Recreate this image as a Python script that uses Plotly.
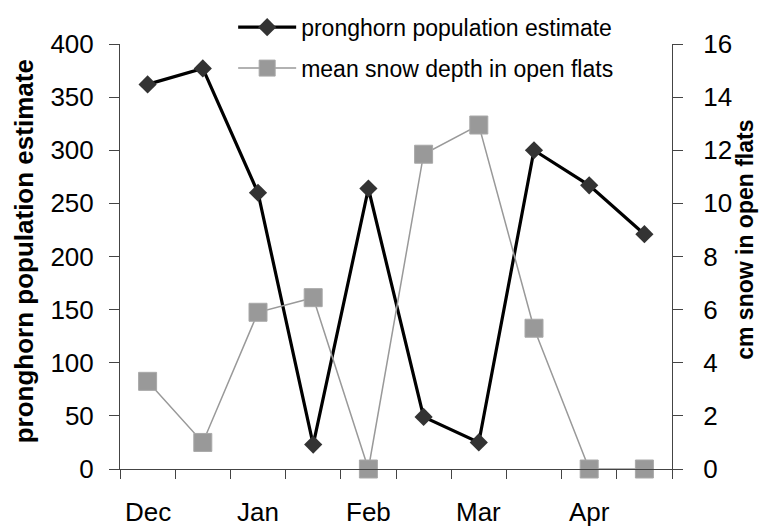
import plotly.graph_objects as go

# Survey periods (two per month); only the first of each month is labelled
periods = list(range(10))
period_labels = ["Dec", "", "Jan", "", "Feb", "", "Mar", "", "Apr", ""]

# Pronghorn counts (left axis) and snow depth in cm (right axis)
pronghorn = [362, 377, 260, 23, 264, 49, 25, 300, 267, 221]
snow_cm = [3.3, 1.0, 5.9, 6.45, 0, 11.85, 12.95, 5.3, 0, 0]

pop_ticks = [0, 50, 100, 150, 200, 250, 300, 350, 400]
snow_ticks = [0, 2, 4, 6, 8, 10, 12, 14, 16]

FONT = "Liberation Sans, Arial, sans-serif"
AXIS_COLOR = "#444444"
X_RANGE = [-0.5, 9.5]
# tick marks sit on the boundaries between survey periods
boundaries = [p - 0.5 for p in periods] + [periods[-1] + 0.5]

fig = go.Figure()

fig.add_trace(go.Scatter(
    x=periods, y=snow_cm, yaxis="y2",
    name="mean snow depth in open flats",
    mode="lines+markers",
    line=dict(color="#999999", width=1.5),
    marker=dict(symbol="square", size=18, color="#999999",
                line=dict(color="#a8a8a8", width=1)),
    cliponaxis=False, legendgroup="snow", legendrank=2,
))

fig.add_trace(go.Scatter(
    x=periods, y=pronghorn, yaxis="y",
    name="pronghorn population estimate",
    mode="lines+markers",
    line=dict(color="#000000", width=3.2),
    marker=dict(symbol="diamond", size=14, color="#333333",
                line=dict(color="#333333", width=0)),
    cliponaxis=False, legendgroup="pop", legendrank=1,
))

fig.update_layout(
    width=759, height=527,
    margin=dict(l=120, r=87, t=44, b=58, autoexpand=False),
    paper_bgcolor="white", plot_bgcolor="white",
    font=dict(family=FONT, color="black", size=26),
    showlegend=True,
    legend=dict(
        x=0.205, y=1.09, xanchor="left", yanchor="top",
        font=dict(size=23, family=FONT),
        bgcolor="rgba(0,0,0,0)",
        traceorder="grouped", tracegroupgap=8,
        itemwidth=58,
    ),
    xaxis=dict(
        range=X_RANGE, automargin=False,
        tickmode="array", tickvals=boundaries,
        ticktext=[""] * len(boundaries),
        ticks="outside", ticklen=9, tickcolor=AXIS_COLOR, tickwidth=1,
        showline=True, linecolor=AXIS_COLOR, linewidth=1,
        showgrid=False, zeroline=False,
    ),
    yaxis=dict(
        range=[0, 400], tickvals=pop_ticks, automargin=False,
        ticks="outside", ticklen=10, tickcolor=AXIS_COLOR, tickwidth=1,
        ticklabelstandoff=10,
        showline=True, linecolor=AXIS_COLOR, linewidth=1,
        showgrid=False, zeroline=False, layer="below traces",
        tickfont=dict(size=26),
    ),
    yaxis2=dict(
        range=[0, 16], tickvals=snow_ticks, overlaying="y", side="right",
        anchor="x", automargin=False,
        ticks="outside", ticklen=10, tickcolor=AXIS_COLOR, tickwidth=1,
        ticklabelstandoff=15,
        showline=True, linecolor=AXIS_COLOR, linewidth=1,
        showgrid=False, zeroline=False, layer="below traces",
        tickfont=dict(size=26),
    ),
    # inner half of the right-hand cross ticks
    yaxis3=dict(
        range=[0, 16], tickvals=snow_ticks, overlaying="y", side="right",
        anchor="x", automargin=False,
        ticks="inside", ticklen=10, tickcolor=AXIS_COLOR, tickwidth=1,
        showticklabels=False, showline=False, showgrid=False,
        zeroline=False, layer="below traces",
    ),
)

# month labels centred under their survey period
for p, lab in zip(periods, period_labels):
    if lab:
        fig.add_annotation(
            text=lab, x=p, xref="x", y=-0.1, yref="paper",
            xanchor="center", yanchor="middle", showarrow=False,
            borderpad=0,
            font=dict(size=26, family=FONT, color="black"),
        )

fig.add_annotation(
    text="<b>pronghorn population estimate</b>", textangle=-90,
    xref="paper", yref="paper", x=-0.174, y=0.512,
    xanchor="center", yanchor="middle", showarrow=False,
    font=dict(size=26, family=FONT, color="black"),
)
fig.add_annotation(
    text="<b>cm snow in open flats</b>", textangle=-90,
    xref="paper", yref="paper", x=1.132, y=0.539,
    xanchor="center", yanchor="middle", showarrow=False,
    borderpad=0,
    font=dict(size=23, family=FONT, color="black"),
)

fig.write_html("out.html")
